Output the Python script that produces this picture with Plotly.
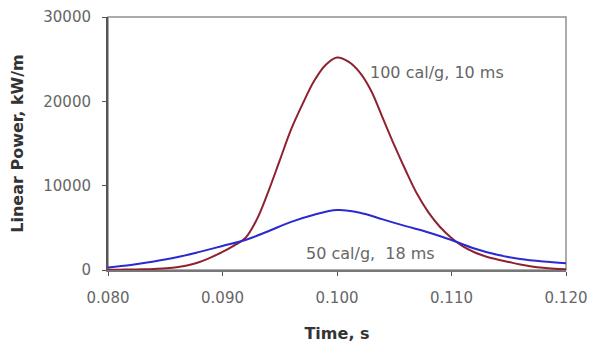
import plotly.graph_objects as go

# Time (s) and linear power (kW/m)
t_100 = [0.080, 0.081, 0.082, 0.083, 0.084, 0.085, 0.086, 0.087, 0.088, 0.089,
         0.090, 0.091, 0.092, 0.093, 0.094, 0.095, 0.096, 0.097, 0.098, 0.099,
         0.100, 0.101, 0.102, 0.103, 0.104, 0.105, 0.106, 0.107, 0.108, 0.109,
         0.110, 0.111, 0.112, 0.113, 0.114, 0.115, 0.116, 0.117, 0.118, 0.119, 0.120]
p_100 = [30, 40, 60, 90, 130, 200, 320, 560, 950, 1500,
         2150, 2900, 3800, 6000, 9300, 13000, 16700, 19700, 22400, 24300,
         25200, 24700, 23400, 21200, 18000, 14800, 11800, 9000, 6800, 5100,
         3800, 2800, 2100, 1600, 1250, 950, 650, 420, 260, 160, 100]

t_50 = [0.080, 0.082, 0.084, 0.086, 0.088, 0.090, 0.092, 0.094, 0.096, 0.098,
        0.100, 0.102, 0.104, 0.106, 0.108, 0.110, 0.112, 0.114, 0.116, 0.118, 0.120]
p_50 = [300, 600, 1000, 1500, 2150, 2850, 3550, 4600, 5700, 6550,
        7100, 6800, 6000, 5200, 4450, 3550, 2550, 1800, 1300, 1000, 800]

x_ticks = [0.080, 0.090, 0.100, 0.110, 0.120]
y_ticks = [0, 10000, 20000, 30000]

labels = ["100 cal/g, 10 ms", "50 cal/g,  18 ms"]
label_pos = [(0.1087, 23400), (0.1029, 2000)]

fig = go.Figure()
fig.add_trace(go.Scatter(x=t_100, y=p_100, mode="lines", line=dict(color="#8e2230", width=2, shape="spline"),
                         showlegend=False))
fig.add_trace(go.Scatter(x=t_50, y=p_50, mode="lines", line=dict(color="#2a2ad0", width=2, shape="spline"),
                         showlegend=False))

for txt, (xx, yy) in zip(labels, label_pos):
    fig.add_annotation(x=xx, y=yy, text=txt, showarrow=False, xanchor="center", yanchor="middle",
                       font=dict(family="DejaVu Sans", size=16, color="#666666"))

tick_font = dict(family="DejaVu Sans", size=15, color="#666666")
title_font = dict(family="DejaVu Sans", size=16, color="#333333")

fig.update_xaxes(range=[0.080, 0.120], tickvals=x_ticks, ticktext=[f"{v:.3f}" for v in x_ticks],
                 showline=True, linecolor="#777777", linewidth=2, ticks="outside", ticklen=4,
                 tickcolor="#555555", tickfont=tick_font, showgrid=False, zeroline=False,
                 ticklabelstandoff=9, automargin=False,
                 title=dict(text="<b>Time, s</b>", font=title_font, standoff=22))
fig.update_yaxes(range=[0, 30000], tickvals=y_ticks, ticktext=[str(v) for v in y_ticks],
                 showline=True, linecolor="#555555", linewidth=2, ticks="outside", ticklen=4,
                 tickcolor="#555555", tickfont=tick_font, showgrid=False, zeroline=False,
                 ticklabelstandoff=8, automargin=False,
                 title=dict(text="<b>Linear Power, kW/m</b>", font=title_font, standoff=16))

fig.add_shape(type="rect", xref="paper", yref="paper", x0=0, y0=0, x1=1, y1=1,
              line=dict(color="#909090", width=1.5), layer="below")

fig.update_layout(width=592, height=347, margin=dict(l=108, r=26, t=17, b=77),
                  paper_bgcolor="white", plot_bgcolor="white")

fig.write_html("out.html")
